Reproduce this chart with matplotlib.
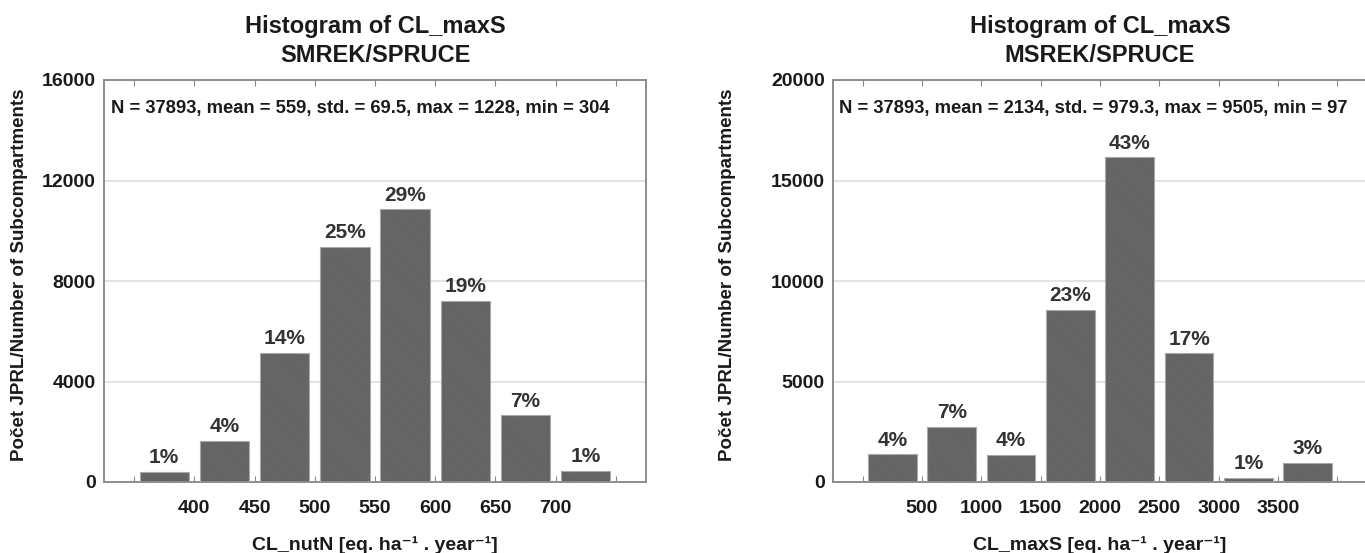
import matplotlib
matplotlib.use('Agg')
import matplotlib.pyplot as plt

# Bin edges, counts and summary line for each histogram
spruce_edges = [350, 400, 450, 500, 550, 600, 650, 700, 750]
spruce_counts = [409, 1637, 5135, 9346, 10848, 7221, 2653, 436]
spruce_n = 37893
spruce_stats = 'N = 37893, mean = 559, std. = 69.5, max = 1228, min = 304'
spruce_ticks = [400, 450, 500, 550, 600, 650, 700]

maxs_edges = [0, 500, 1000, 1500, 2000, 2500, 3000, 3500, 4000]
maxs_counts = [1372, 2727, 1339, 8579, 16150, 6397, 200, 960]
maxs_n = 37893
maxs_stats = 'N = 37893, mean = 2134, std. = 979.3, max = 9505, min = 97'
maxs_ticks = [500, 1000, 1500, 2000, 2500, 3000, 3500]

plt.rcParams['font.family'] = ['Liberation Sans', 'DejaVu Sans']
plt.rcParams['font.weight'] = 'bold'
plt.rcParams['axes.labelweight'] = 'bold'
plt.rcParams['hatch.linewidth'] = 0.7

W, H = 1365, 553
fig = plt.figure(figsize=(W / 100, H / 100), dpi=100)


def draw_hist(rect, edges, counts, n, stats, ticks, ymax, ystep, title, xlabel, ylabel_x):
	ax = fig.add_axes(rect)
	step = edges[1] - edges[0]
	centers = [(a + b) / 2 for a, b in zip(edges[:-1], edges[1:])]
	ax.set_xlim(edges[0] - step / 2, edges[-1] + step / 2)
	ax.set_ylim(0, ymax)

	for y in range(ystep, ymax, ystep):
		ax.axhline(y, color='#dedede', lw=1.2, zorder=0)

	# hatched fill, then a light outline on top
	ax.bar(centers, counts, width=step * 0.82, color='#8c8c8c', edgecolor='#585858',
		linewidth=0, hatch='\\' * 18, zorder=2)
	ax.bar(centers, counts, width=step * 0.82, fill=False, edgecolor='#aaaaaa',
		linewidth=0.8, zorder=3)

	for c, v in zip(centers, counts):
		ax.text(c, v + ymax * 0.012, '%.0f%%' % (100.0 * v / n), ha='center', va='bottom',
			fontsize=15, color='#333333', zorder=4)

	ax.text(0.012, 0.93, stats, transform=ax.transAxes, ha='left', va='center',
		fontsize=13.2, color='#1a1a1a')

	ax.set_yticks(range(0, ymax + 1, ystep))
	ax.set_xticks(edges)
	ax.set_xticklabels([str(e) if e in ticks else '' for e in edges])
	ax.tick_params(axis='both', which='both', direction='in', length=4, color='#888888',
		labelsize=14, labelcolor='#1a1a1a', top=True, right=False)
	ax.tick_params(axis='y', length=0, pad=6)
	ax.tick_params(axis='x', pad=13)
	for s in ax.spines.values():
		s.set_color('#8c8c8c')
		s.set_linewidth(1.4)

	ax.set_xlabel(xlabel, fontsize=14, color='#1a1a1a', labelpad=14)
	cx = rect[0] + rect[2] / 2
	fig.text(cx, 1 - 41 / H, 'Histogram of CL_maxS\n' + title, ha='center', va='center',
		fontsize=17, linespacing=1.35, color='#1a1a1a')
	fig.text(ylabel_x / W, rect[1] + rect[3] / 2 + 6 / H, 'Počet JPRL/Number of Subcompartments',
		rotation=90, ha='center', va='center', fontsize=13.5, color='#1a1a1a')
	return ax


bottom = (H - 482) / H
height = 402 / H
draw_hist([104 / W, bottom, 542 / W, height], spruce_edges, spruce_counts, spruce_n,
	spruce_stats, spruce_ticks, 16000, 4000, 'SMREK/SPRUCE',
	'CL_nutN [eq. ha⁻¹ . year⁻¹]', 20)
draw_hist([833 / W, bottom, 534 / W, height], maxs_edges, maxs_counts, maxs_n,
	maxs_stats, maxs_ticks, 20000, 5000, 'MSREK/SPRUCE',
	'CL_maxS [eq. ha⁻¹ . year⁻¹]', 728)

plt.savefig('out.png', dpi=100)
plt.close()
